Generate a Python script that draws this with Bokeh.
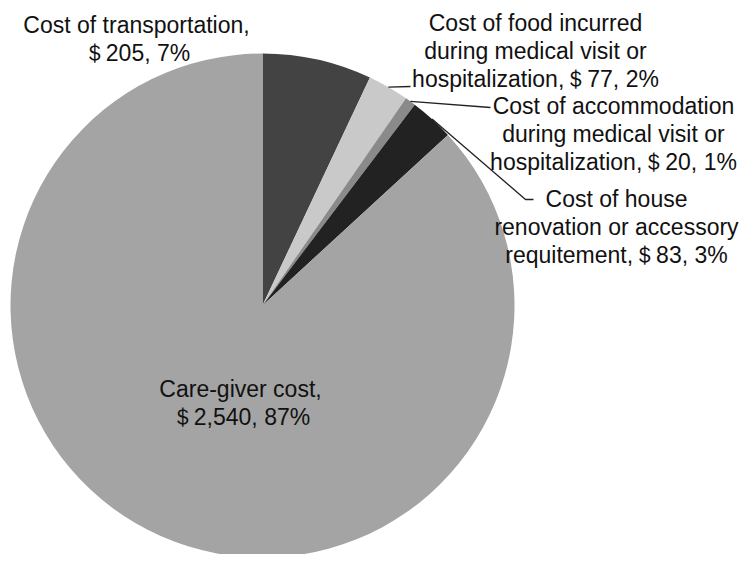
import math
from bokeh.plotting import figure
from bokeh.models import Range1d, ColumnDataSource
from bokeh.core.properties import value
from bokeh.embed import file_html
from bokeh.resources import INLINE

# ---- data ----
categories = [
    "Cost of transportation",
    "Cost of food incurred\nduring medical visit or\nhospitalization",
    "Cost of accommodation\nduring medical visit or\nhospitalization",
    "Cost of house\nrenovation or accessory\nrequitement",
    "Care-giver cost",
]
costs = [205, 77, 20, 83, 2540]
percents = [7, 2, 1, 3, 87]
colors = ["#434343", "#c9c9c9", "#8a8a8a", "#222222", "#a4a4a4"]

# ---- layout (image pixel coordinates) ----
W, H = 740, 554
CX, CY, R = 262, 305, 252
label_pos = [(136, 24, True), (535, 22, False), (613, 105, False), (616, 198, False), (240, 388, True)]
leader_ends = [None, [(410, 86)], [(490, 107)], [(525, 199), (533, 199)], None]
LINE_H = 28


def Y(img_y):
    return 570 - img_y


p = figure(width=W, height=H, output_backend="svg", toolbar_location=None,
           x_range=Range1d(0, 740), y_range=Range1d(16, 570), min_border=0)
p.axis.visible = False
p.grid.visible = False
p.outline_line_color = None
p.background_fill_color = "white"
p.border_fill_color = "white"

total = sum(costs)
cum = 0.0
starts, ends, mids = [], [], []
for c in costs:
    a0 = cum / total * 2 * math.pi
    cum += c
    a1 = cum / total * 2 * math.pi
    starts.append(math.pi / 2 - a0)
    ends.append(math.pi / 2 - a1)
    mids.append((a0 + a1) / 2)

src = ColumnDataSource(dict(start=starts, end=ends, color=colors))
p.wedge(x=CX, y=Y(CY), radius=R, start_angle="start", end_angle="end",
        direction="clock", fill_color="color", line_color=None, source=src)

# leader lines
for i, ends_pts in enumerate(leader_ends):
    if not ends_pts:
        continue
    sx = CX + R * math.sin(mids[i])
    sy = CY - R * math.cos(mids[i])
    xs = [sx] + [e[0] for e in ends_pts]
    ys = [Y(sy)] + [Y(e[1]) for e in ends_pts]
    p.line(xs, ys, line_color="#222222", line_width=1.3)

# labels
tx, ty, tt = [], [], []
for i, cat in enumerate(categories):
    sep = ",\n" if label_pos[i][2] else ","
    full = f"{cat}{sep}＄{costs[i]:,}, {percents[i]}%"
    lines = full.split("\n")
    x0, y0, _ = label_pos[i]
    for k, ln in enumerate(lines):
        tx.append(x0)
        ty.append(Y(y0 + k * LINE_H))
        tt.append(ln)

p.text(x=tx, y=ty, text=tt, text_align="center", text_baseline="middle",
       text_font=value("Liberation Sans"), text_font_size="23px", text_color="#111111")

open("out.html", "w").write(file_html(p, INLINE))
